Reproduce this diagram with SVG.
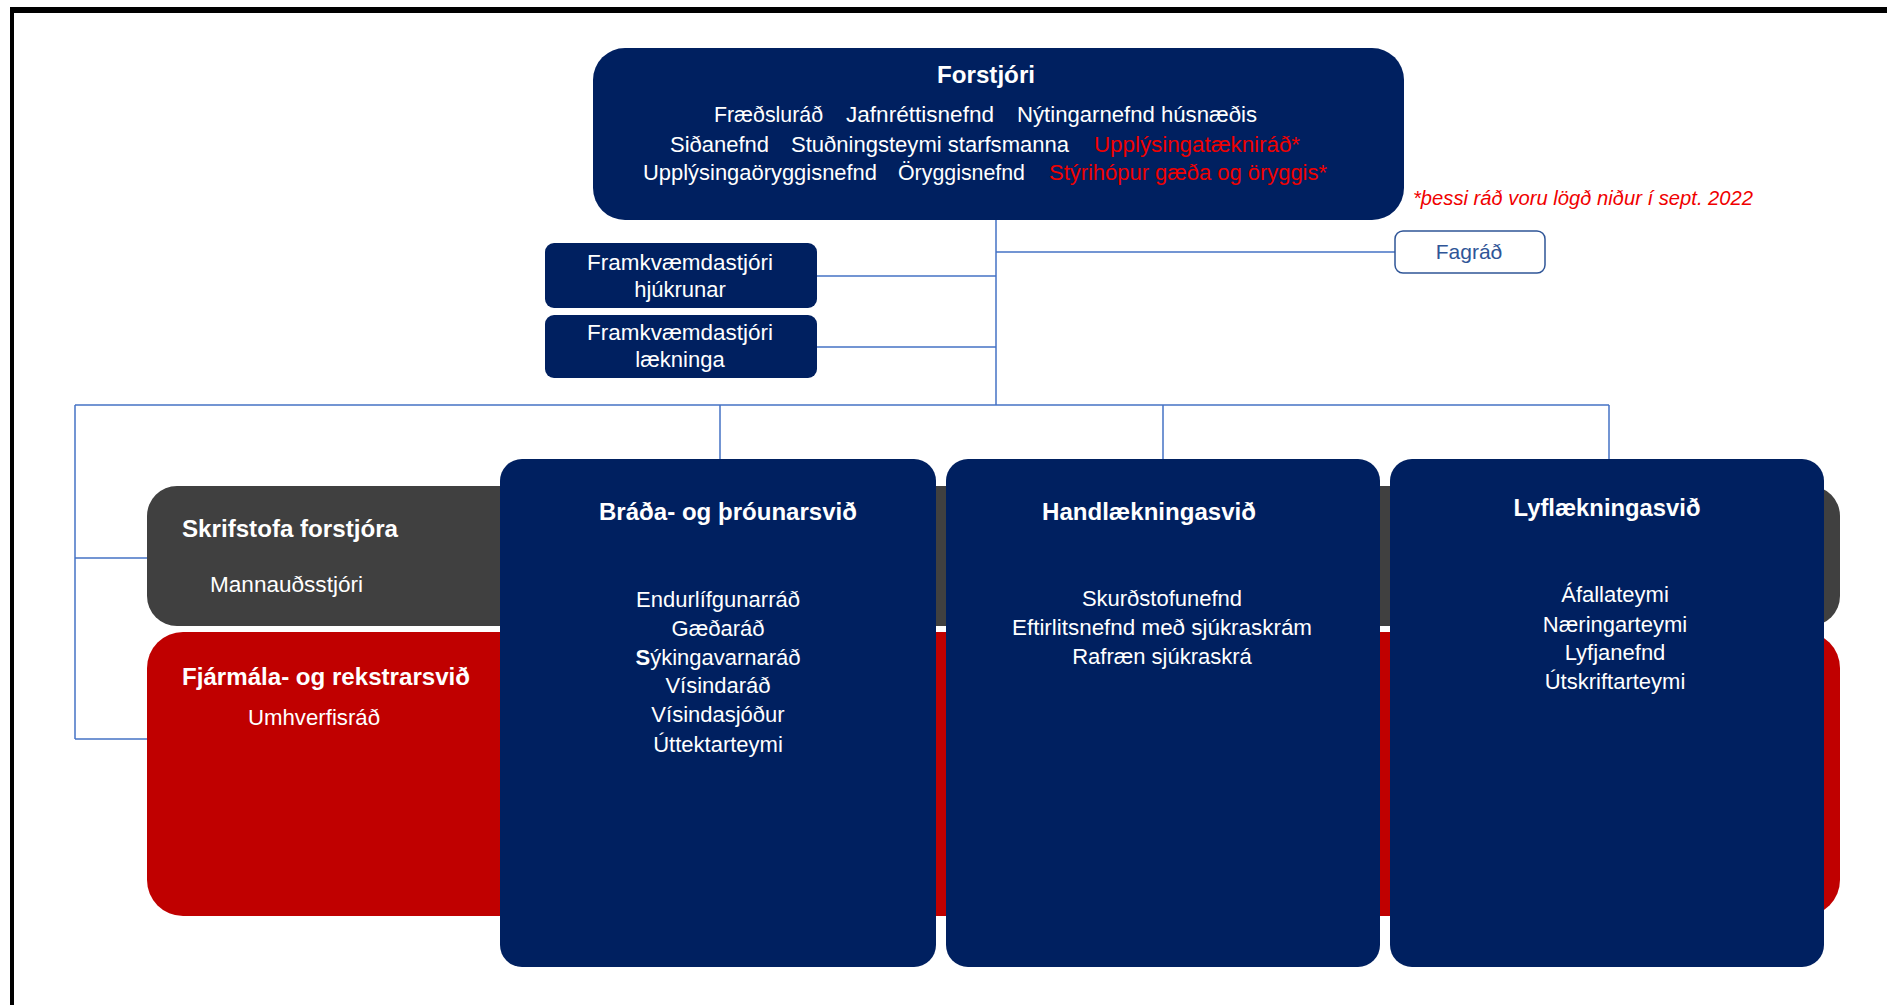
<svg xmlns="http://www.w3.org/2000/svg" width="1887" height="1005" viewBox="0 0 1887 1005">
<style>
  .t { font-family: "Liberation Sans", Arial, sans-serif; font-size: 22px; fill: #ffffff; }
  .b { font-weight: bold; font-size: 24px; }
  .red { fill: #F00000; }
  .mid { text-anchor: middle; }
  .navy { fill: #002060; }
  .conn { stroke: #4472C4; stroke-width: 1.5; fill: none; }
</style>
<rect x="0" y="0" width="1887" height="1005" fill="#ffffff"/>
<!-- frame -->
<rect x="10" y="7" width="1877" height="6" fill="#000000"/>
<rect x="10" y="7" width="4" height="998" fill="#000000"/>

<g id="connectors">
  <line class="conn" x1="996" y1="220" x2="996" y2="405"/>
  <line class="conn" x1="996" y1="252" x2="1395" y2="252"/>
  <line class="conn" x1="817" y1="276" x2="996" y2="276"/>
  <line class="conn" x1="817" y1="347" x2="996" y2="347"/>
  <line class="conn" x1="75" y1="405" x2="1609" y2="405"/>
  <line class="conn" x1="720" y1="405" x2="720" y2="459"/>
  <line class="conn" x1="1163" y1="405" x2="1163" y2="459"/>
  <line class="conn" x1="1609" y1="405" x2="1609" y2="459"/>
  <line class="conn" x1="75" y1="405" x2="75" y2="739"/>
  <line class="conn" x1="75" y1="558" x2="147" y2="558"/>
  <line class="conn" x1="75" y1="739" x2="147" y2="739"/>
</g>

<g id="forstjori">
  <rect x="593" y="48" width="811" height="172" rx="32" class="navy"/>
  <text class="t b mid" x="986" y="83" textLength="98" lengthAdjust="spacingAndGlyphs">Forstjóri</text>
  <text class="t" x="714" y="122" textLength="109" lengthAdjust="spacingAndGlyphs">Fræðsluráð</text>
  <text class="t" x="846" y="122" textLength="148" lengthAdjust="spacingAndGlyphs">Jafnréttisnefnd</text>
  <text class="t" x="1017" y="122" textLength="240" lengthAdjust="spacingAndGlyphs">Nýtingarnefnd húsnæðis</text>
  <text class="t" x="670" y="152" textLength="99" lengthAdjust="spacingAndGlyphs">Siðanefnd</text>
  <text class="t" x="791" y="152" textLength="278" lengthAdjust="spacingAndGlyphs">Stuðningsteymi starfsmanna</text>
  <text class="t red" x="1094" y="152" textLength="206" lengthAdjust="spacingAndGlyphs">Upplýsingatækniráð*</text>
  <text class="t" x="643" y="180" textLength="234" lengthAdjust="spacingAndGlyphs">Upplýsingaöryggisnefnd</text>
  <text class="t" x="898" y="180" textLength="127" lengthAdjust="spacingAndGlyphs">Öryggisnefnd</text>
  <text class="t red" x="1049" y="180" textLength="278" lengthAdjust="spacingAndGlyphs">Stýrihópur gæða og öryggis*</text>
</g>

<g id="footnote">
  <text class="t red" style="font-style:italic;font-size:20px" x="1413" y="205" textLength="340" lengthAdjust="spacingAndGlyphs">*þessi ráð voru lögð niður í sept. 2022</text>
</g>

<g id="fagrad">
  <rect x="1395" y="231" width="150" height="42" rx="8" fill="#ffffff" stroke="#2F5597" stroke-width="1.5"/>
  <text class="t mid" style="fill:#2F5597;font-size:21px" x="1469" y="259">Fagráð</text>
</g>

<g id="framkv-hjukrunar">
  <rect x="545" y="243" width="272" height="65" rx="9" class="navy"/>
  <text class="t mid" x="680" y="270" textLength="186" lengthAdjust="spacingAndGlyphs">Framkvæmdastjóri</text>
  <text class="t mid" x="680" y="297">hjúkrunar</text>
</g>

<g id="framkv-laekninga">
  <rect x="545" y="315" width="272" height="63" rx="9" class="navy"/>
  <text class="t mid" x="680" y="340" textLength="186" lengthAdjust="spacingAndGlyphs">Framkvæmdastjóri</text>
  <text class="t mid" x="680" y="367">lækninga</text>
</g>

<g id="skrifstofa">
  <rect x="147" y="486" width="1693" height="140" rx="30" fill="#404040"/>
  <text class="t b" x="182" y="537" textLength="216" lengthAdjust="spacingAndGlyphs">Skrifstofa forstjóra</text>
  <text class="t" x="210" y="592" textLength="153" lengthAdjust="spacingAndGlyphs">Mannauðsstjóri</text>
</g>

<g id="fjarmala">
  <rect x="147" y="632" width="1693" height="284" rx="36" fill="#C00000"/>
  <text class="t b" x="182" y="685" textLength="288" lengthAdjust="spacingAndGlyphs">Fjármála- og rekstrarsvið</text>
  <text class="t" x="248" y="725" textLength="132" lengthAdjust="spacingAndGlyphs">Umhverfisráð</text>
</g>

<g id="brada">
  <rect x="500" y="459" width="436" height="508" rx="22" class="navy"/>
  <text class="t b mid" x="728" y="520" textLength="258" lengthAdjust="spacingAndGlyphs">Bráða- og þróunarsvið</text>
  <text class="t mid" x="718" y="607">Endurlífgunarráð</text>
  <text class="t mid" x="718" y="636">Gæðaráð</text>
  <text class="t mid" x="718" y="665"><tspan font-weight="bold">S</tspan>ýkingavarnaráð</text>
  <text class="t mid" x="718" y="693">Vísindaráð</text>
  <text class="t mid" x="718" y="722">Vísindasjóður</text>
  <text class="t mid" x="718" y="752">Úttektarteymi</text>
</g>

<g id="handlaekningasvid">
  <rect x="946" y="459" width="434" height="508" rx="22" class="navy"/>
  <text class="t b mid" x="1149" y="520" textLength="214" lengthAdjust="spacingAndGlyphs">Handlækningasvið</text>
  <text class="t mid" x="1162" y="606">Skurðstofunefnd</text>
  <text class="t mid" x="1162" y="635" textLength="300" lengthAdjust="spacingAndGlyphs">Eftirlitsnefnd með sjúkraskrám</text>
  <text class="t mid" x="1162" y="664">Rafræn sjúkraskrá</text>
</g>

<g id="lyflaekningasvid">
  <rect x="1390" y="459" width="434" height="508" rx="22" class="navy"/>
  <text class="t b mid" x="1607" y="516" textLength="187" lengthAdjust="spacingAndGlyphs">Lyflækningasvið</text>
  <text class="t mid" x="1615" y="602">Áfallateymi</text>
  <text class="t mid" x="1615" y="632">Næringarteymi</text>
  <text class="t mid" x="1615" y="660">Lyfjanefnd</text>
  <text class="t mid" x="1615" y="689">Útskriftarteymi</text>
</g>
</svg>
